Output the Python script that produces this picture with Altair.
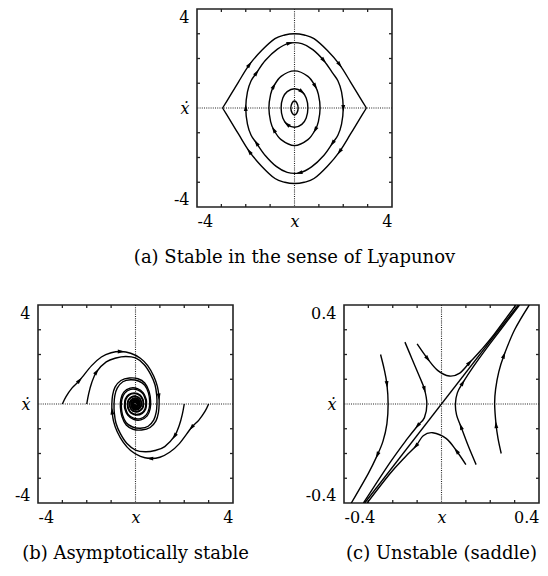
import math
import altair as alt
import pandas as pd

# ---------- (a) orbits around a centre (listed clockwise) ----------
# outermost orbit has corners at x = -2.95 and 2.95, drawn as an upper and a lower arc
a1u_x = [-2.95, -2.7, -2.3, -1.85, -1.35, -0.8, -0.4, 0.0, 0.4, 0.8, 1.35, 1.85, 2.3, 2.7, 2.95]
a1u_y = [0.0, 0.4, 1.05, 1.75, 2.32, 2.8, 2.95, 3.0, 2.95, 2.8, 2.32, 1.75, 1.05, 0.4, 0.0]
a1l_x = [2.95, 2.7, 2.3, 1.85, 1.35, 0.8, 0.4, 0.0, -0.4, -0.8, -1.35, -1.85, -2.3, -2.7, -2.95]
a1l_y = [0.0, -0.4, -1.05, -1.76, -2.35, -2.85, -3.0, -3.05, -3.0, -2.85, -2.35, -1.76, -1.05, -0.4, 0.0]

a2_x = [-2.0, -1.93, -1.78, -1.56, -1.2, -0.7, -0.2, 0.3, 0.75, 1.2, 1.56, 1.78, 1.93,
        2.0, 1.93, 1.78, 1.56, 1.2, 0.7, 0.2, -0.3, -0.75, -1.2, -1.56, -1.78, -1.93]
a2_y = [0.0, 0.65, 1.1, 1.42, 1.92, 2.38, 2.62, 2.6, 2.36, 1.92, 1.42, 1.1, 0.65,
        0.0, -0.65, -1.1, -1.42, -1.92, -2.38, -2.62, -2.6, -2.36, -1.92, -1.42, -1.1, -0.65]

a3_x = [-1.05, -0.98, -0.85, -0.55, 0.0, 0.55, 0.85, 0.98, 1.05, 0.98, 0.85, 0.55, 0.0, -0.55, -0.85, -0.98]
a3_y = [0.0, 0.55, 0.88, 1.28, 1.5, 1.28, 0.88, 0.55, 0.0, -0.55, -0.88, -1.28, -1.52, -1.28, -0.88, -0.55]

a4_x = [-0.55, -0.48, -0.3, 0.0, 0.3, 0.48, 0.55, 0.48, 0.3, 0.0, -0.3, -0.48]
a4_y = [0.0, 0.4, 0.66, 0.78, 0.66, 0.4, 0.0, -0.4, -0.66, -0.78, -0.66, -0.4]

a5_x = [-0.15, -0.1, 0.0, 0.1, 0.15, 0.1, 0.0, -0.1]
a5_y = [0.0, 0.2, 0.28, 0.2, 0.0, -0.2, -0.28, -0.2]

# (curve, point index) where a direction arrow sits
a_arrows = [(0, 3), (0, 11), (1, 3), (1, 11),
            (2, 0), (2, 3), (2, 6), (2, 9), (2, 13), (2, 16), (2, 19), (2, 23),
            (3, 2), (3, 6), (3, 10), (3, 14),
            (4, 4), (4, 10)]

# ---------- (b) trajectories of a damped oscillator ----------
b1_x = [-3.0, -2.85, -2.6, -2.3, -1.8, -1.4, -1.0, -0.6, -0.2, 0.2, 0.5, 0.75, 0.9, 0.96, 0.97,
        0.94, 0.84, 0.6, 0.25, -0.1, -0.38, -0.56, -0.62,
        -0.6, -0.48, -0.22, 0.08, 0.32, 0.44, 0.45,
        0.42, 0.28, 0.05, -0.18, -0.31, -0.33,
        -0.3, -0.17, 0.02, 0.18, 0.25,
        0.23, 0.12, -0.04, -0.15, -0.19,
        -0.16, -0.05, 0.08, 0.14,
        0.12, 0.02, -0.08, -0.1,
        -0.06, 0.03, 0.07, 0.04, -0.02, -0.04]
b1_y = [0.0, 0.3, 0.65, 0.95, 1.55, 1.9, 2.07, 2.12, 2.05, 1.85, 1.55, 1.12, 0.7, 0.3, 0.0,
        -0.35, -0.68, -0.95, -1.05, -1.02, -0.85, -0.5, -0.12,
        0.2, 0.48, 0.64, 0.62, 0.45, 0.18, 0.0,
        -0.2, -0.38, -0.45, -0.37, -0.18, 0.0,
        0.16, 0.29, 0.32, 0.22, 0.05,
        -0.1, -0.22, -0.24, -0.15, 0.0,
        0.12, 0.19, 0.16, 0.04,
        -0.08, -0.14, -0.1, 0.0,
        0.09, 0.09, 0.01, -0.05, -0.05, 0.0]

b2_x = [-2.0, -1.92, -1.8, -1.6, -1.2, -0.8, -0.4, 0.0, 0.35, 0.62, 0.8, 0.87, 0.88,
        0.85, 0.75, 0.52, 0.2, -0.12, -0.38, -0.53, -0.58,
        -0.56, -0.44, -0.2, 0.08, 0.3, 0.41, 0.42,
        0.39, 0.26, 0.04, -0.17, -0.29, -0.31,
        -0.28, -0.16, 0.02, 0.17, 0.23,
        0.21, 0.11, -0.04, -0.14, -0.17,
        -0.14, -0.04, 0.07, 0.13,
        0.1, 0.01, -0.07, -0.09,
        -0.05, 0.02, 0.05]
b2_y = [0.0, 0.42, 0.85, 1.3, 1.7, 1.86, 1.92, 1.86, 1.6, 1.2, 0.78, 0.35, 0.0,
        -0.33, -0.64, -0.9, -0.98, -0.93, -0.76, -0.45, -0.12,
        0.18, 0.44, 0.59, 0.57, 0.42, 0.17, 0.0,
        -0.19, -0.36, -0.42, -0.35, -0.17, 0.0,
        0.15, 0.27, 0.3, 0.21, 0.05,
        -0.1, -0.2, -0.22, -0.14, 0.0,
        0.11, 0.17, 0.14, 0.03,
        -0.07, -0.12, -0.08, 0.0,
        0.07, 0.07, 0.0]

b3_x = [3.0, 2.85, 2.6, 2.3, 1.8, 1.4, 1.0, 0.6, 0.2, -0.2, -0.5, -0.75, -0.9, -0.96, -0.97,
        -0.94, -0.84, -0.6, -0.25, 0.1, 0.38, 0.56, 0.62,
        0.6, 0.48, 0.22, -0.08, -0.32, -0.44, -0.45,
        -0.42, -0.28, -0.05, 0.18, 0.31, 0.33,
        0.3, 0.17, -0.02, -0.18, -0.25,
        -0.23, -0.12, 0.04, 0.15, 0.19,
        0.16, 0.05, -0.08, -0.14,
        -0.12, -0.02, 0.08, 0.1,
        0.06, -0.03, -0.07, -0.04, 0.02, 0.04]
b3_y = [0.0, -0.3, -0.65, -0.95, -1.6, -1.95, -2.15, -2.2, -2.12, -1.88, -1.55, -1.12, -0.7, -0.3, 0.0,
        0.35, 0.68, 0.95, 1.05, 1.02, 0.85, 0.5, 0.12,
        -0.2, -0.48, -0.64, -0.62, -0.45, -0.18, 0.0,
        0.2, 0.38, 0.45, 0.37, 0.18, 0.0,
        -0.16, -0.29, -0.32, -0.22, -0.05,
        0.1, 0.22, 0.24, 0.15, 0.0,
        -0.12, -0.19, -0.16, -0.04,
        0.08, 0.14, 0.1, 0.0,
        -0.09, -0.09, -0.01, 0.05, 0.05, 0.0]

b4_x = [2.0, 1.92, 1.8, 1.6, 1.2, 0.8, 0.4, 0.0, -0.35, -0.62, -0.8, -0.87, -0.88,
        -0.85, -0.75, -0.52, -0.2, 0.12, 0.38, 0.53, 0.58,
        0.56, 0.44, 0.2, -0.08, -0.3, -0.41, -0.42,
        -0.39, -0.26, -0.04, 0.17, 0.29, 0.31,
        0.28, 0.16, -0.02, -0.17, -0.23,
        -0.21, -0.11, 0.04, 0.14, 0.17,
        0.14, 0.04, -0.07, -0.13,
        -0.1, -0.01, 0.07, 0.09,
        0.05, -0.02, -0.05]
b4_y = [0.0, -0.42, -0.85, -1.3, -1.72, -1.88, -1.93, -1.86, -1.6, -1.2, -0.78, -0.35, 0.0,
        0.33, 0.64, 0.9, 0.98, 0.93, 0.76, 0.45, 0.12,
        -0.18, -0.44, -0.59, -0.57, -0.42, -0.17, 0.0,
        0.19, 0.36, 0.42, 0.35, 0.17, 0.0,
        -0.15, -0.27, -0.3, -0.21, -0.05,
        0.1, 0.2, 0.22, 0.14, 0.0,
        -0.11, -0.17, -0.14, -0.03,
        0.07, 0.12, 0.08, 0.0,
        -0.07, -0.07, 0.0]

b_arrows = [(0, 3), (0, 7), (0, 13), (1, 3), (2, 3), (2, 7), (2, 13), (3, 3)]

# ---------- (c) trajectories near a saddle ----------
c0_x = [-0.315, 0.315]
c0_y = [-0.4, 0.4]
c1_x = [-0.25, -0.235, -0.224, -0.219, -0.224, -0.24, -0.263, -0.3, -0.37]
c1_y = [0.2, 0.14, 0.08, 0.0, -0.08, -0.15, -0.206, -0.28, -0.4]
c2_x = [-0.15, -0.12, -0.09, -0.07, -0.06, -0.07, -0.098, -0.14, -0.21, -0.32]
c2_y = [0.25, 0.18, 0.11, 0.06, 0.0, -0.055, -0.088, -0.14, -0.235, -0.4]
c3_x = [-0.1, -0.057, -0.016, 0.032, 0.075, 0.115, 0.16, 0.215, 0.305]
c3_y = [0.243, 0.183, 0.136, 0.113, 0.125, 0.167, 0.215, 0.28, 0.4]
c4_x = [0.1, 0.062, 0.02, -0.036, -0.075, -0.105, -0.15, -0.21, -0.305]
c4_y = [-0.245, -0.19, -0.14, -0.116, -0.128, -0.17, -0.215, -0.28, -0.4]
c5_x = [0.142, 0.11, 0.08, 0.062, 0.057, 0.065, 0.087, 0.13, 0.2, 0.32]
c5_y = [-0.245, -0.17, -0.092, -0.045, 0.0, 0.045, 0.085, 0.15, 0.245, 0.4]
c6_x = [0.245, 0.232, 0.224, 0.218, 0.222, 0.235, 0.256, 0.3, 0.36]
c6_y = [-0.2, -0.14, -0.085, 0.0, 0.06, 0.13, 0.196, 0.3, 0.4]

c_arrows = [(1, 2), (1, 6), (2, 3), (2, 6), (3, 1), (3, 5), (4, 1), (4, 5), (5, 2), (5, 6), (6, 2), (6, 6)]

# ---------- axis text ----------
ticks_ab = [-3, -2, -1, 1, 2, 3]
ticks_c = [-0.3, -0.2, -0.1, 0.1, 0.2, 0.3]
xlabels_ab = ["-4", "x", "4"]
ylabels_ab = ["-4", "\u1e8b", "4"]
xlabels_c = ["-0.4", "x", "0.4"]
ylabels_c = ["-0.4", "\u1e8b", "0.4"]
captions = ["(a) Stable in the sense of Lyapunov",
            "(b) Asymptotically stable",
            "(c) Unstable (saddle)"]

SERIF = "DejaVu Serif"
PW, PH = 195, 198
TICK = 3
ARROW = "M0,-1L0.5,0.8L-0.5,0.8Z"
ITALIC_ZERO = {"condition": {"test": "datum.value === 0", "value": "italic"}, "value": "normal"}


def curve_table(curves, closed):
    rows = []
    for cid, (xs, ys, loop) in enumerate(curves):
        if loop != closed:
            continue
        for i, (x, y) in enumerate(zip(xs, ys)):
            rows.append({"cid": cid, "i": i, "x": x, "y": y})
    return pd.DataFrame(rows, columns=["cid", "i", "x", "y"])


def arrow_table(curves, marks, lim):
    # heading of each arrow follows the curve through its neighbouring points
    sx, sy = PW / (2 * lim), PH / (2 * lim)
    rows = []
    for cid, idx in marks:
        xs, ys, loop = curves[cid]
        n = len(xs)
        if loop:
            i0, i1 = (idx - 1) % n, (idx + 1) % n
        else:
            i0, i1 = max(idx - 1, 0), min(idx + 1, n - 1)
        dx = (xs[i1] - xs[i0]) * sx
        dy = (ys[i1] - ys[i0]) * sy
        rows.append({"x": xs[idx], "y": ys[idx],
                     "angle": math.degrees(math.atan2(dx, dy)) % 360})
    return pd.DataFrame(rows)


def label_expr(labels):
    lo, mid, hi = labels
    return f"datum.value < 0 ? '{lo}' : datum.value > 0 ? '{hi}' : '{mid}'"


def panel(curves, marks, lim, ticks, xlabels, ylabels, caption):
    X = alt.X("x:Q", scale=alt.Scale(domain=[-lim, lim], nice=False, zero=False),
              axis=alt.Axis(values=[-lim, 0, lim], labelExpr=label_expr(xlabels),
                            labelFontStyle=ITALIC_ZERO, title=None, labelPadding=6))
    Y = alt.Y("y:Q", scale=alt.Scale(domain=[-lim, lim], nice=False, zero=False),
              axis=alt.Axis(values=[-lim, 0, lim], labelExpr=label_expr(ylabels),
                            labelFontStyle=ITALIC_ZERO, title=None, labelFlush=True,
                            labelPadding=8, labelAngle=0))

    dotted = dict(color="#222", strokeWidth=1.1, strokeDash=[1, 1.2])
    zero_v = alt.Chart(pd.DataFrame({"x": [0.0]})).mark_rule(**dotted).encode(x=X)
    zero_h = alt.Chart(pd.DataFrame({"y": [0.0]})).mark_rule(**dotted).encode(y=Y)

    tick_df = pd.DataFrame({"x": ticks, "y": ticks})
    tick_mark = dict(color="#222", strokeWidth=1.3)
    t_bottom = alt.Chart(tick_df).mark_rule(**tick_mark).encode(
        x=X, y=alt.value(PH), y2=alt.value(PH - TICK))
    t_top = alt.Chart(tick_df).mark_rule(**tick_mark).encode(
        x=X, y=alt.value(0), y2=alt.value(TICK))
    t_left = alt.Chart(tick_df).mark_rule(**tick_mark).encode(
        y=Y, x=alt.value(0), x2=alt.value(TICK))
    t_right = alt.Chart(tick_df).mark_rule(**tick_mark).encode(
        y=Y, x=alt.value(PW), x2=alt.value(PW - TICK))

    layers = [zero_v, zero_h, t_bottom, t_top, t_left, t_right]
    for loop, interp in ((True, "cardinal-closed"), (False, "cardinal")):
        df = curve_table(curves, loop)
        if len(df):
            layers.append(alt.Chart(df).mark_line(
                color="black", strokeWidth=1.4, clip=True, interpolate=interp
            ).encode(x=X, y=Y, detail="cid:N", order="i:Q"))

    layers.append(alt.Chart(arrow_table(curves, marks, lim)).mark_point(
        shape=ARROW, filled=True, color="black", size=60, opacity=1, strokeWidth=0
    ).encode(x=X, y=Y, angle=alt.Angle("angle:Q", scale=None)))

    return alt.layer(*layers).properties(
        width=PW, height=PH,
        title=alt.TitleParams(caption, orient="bottom", font=SERIF, fontSize=18,
                              fontWeight="normal", color="black", frame="group", offset=20),
    )


panel_a = panel([(a1u_x, a1u_y, False), (a1l_x, a1l_y, False), (a2_x, a2_y, True),
                 (a3_x, a3_y, True), (a4_x, a4_y, True), (a5_x, a5_y, True)],
                a_arrows, 4, ticks_ab, xlabels_ab, ylabels_ab, captions[0])
panel_b = panel([(b1_x, b1_y, False), (b2_x, b2_y, False), (b3_x, b3_y, False), (b4_x, b4_y, False)],
                b_arrows, 4, ticks_ab, xlabels_ab, ylabels_ab, captions[1])
panel_c = panel([(c0_x, c0_y, False), (c1_x, c1_y, False), (c2_x, c2_y, False), (c3_x, c3_y, False),
                 (c4_x, c4_y, False), (c5_x, c5_y, False), (c6_x, c6_y, False)],
                c_arrows, 0.4, ticks_c, xlabels_c, ylabels_c, captions[2])

# blank cell that pushes the top panel towards the middle
spacer = alt.Chart(pd.DataFrame({"s": [0]})).mark_point(opacity=0).encode(
    x=alt.X("s:Q", axis=None), y=alt.Y("s:Q", axis=None)
).properties(width=159, height=PH, view=alt.ViewBackground(strokeOpacity=0))

top_row = alt.hconcat(spacer, panel_a, spacing=0, bounds="flush")
bottom_row = alt.hconcat(panel_b, panel_c, spacing=111, bounds="flush")

chart = alt.vconcat(top_row, bottom_row, spacing=35).properties(
    padding={"left": 13, "top": 7, "right": 0, "bottom": 0}
).configure_view(
    stroke="#222", strokeWidth=1.6
).configure_axis(
    domain=False, ticks=False, tickSize=0, grid=False,
    labelFont=SERIF, labelFontSize=16, labelColor="black"
)

chart.save("out.html", embed_options={"renderer": "svg", "actions": False})
